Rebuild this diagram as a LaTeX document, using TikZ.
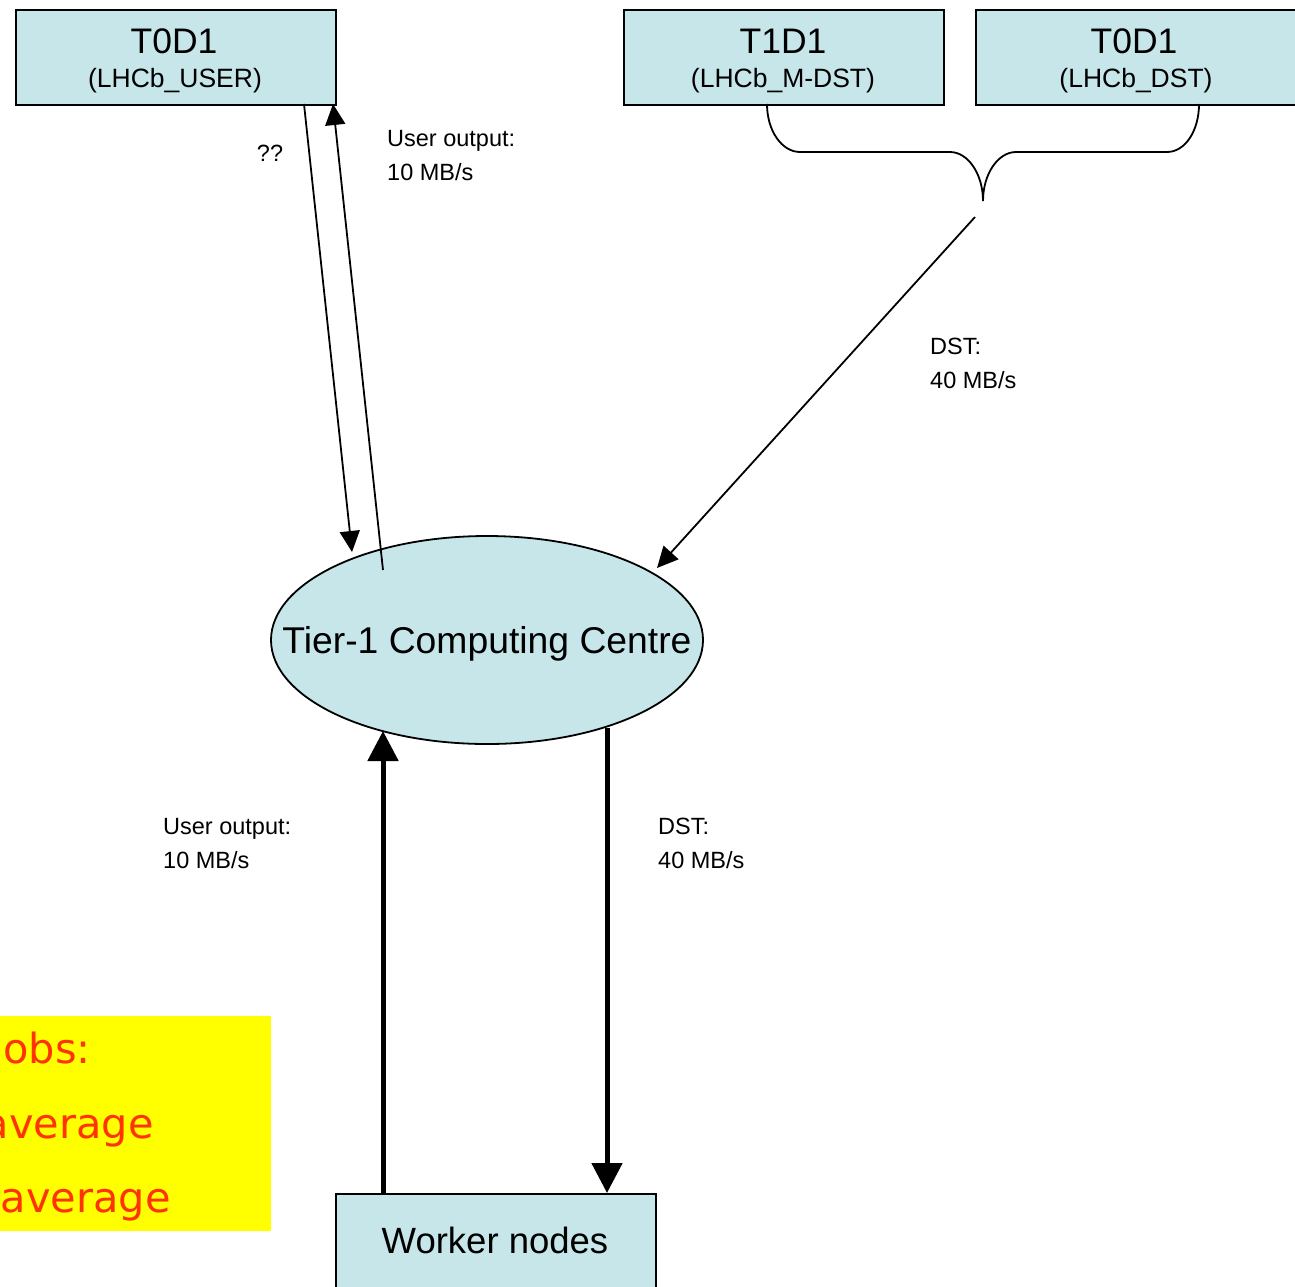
\documentclass[tikz,border=0pt]{standalone}
\usepackage{fontspec}
\setmainfont{Liberation Sans}
\newfontfamily\notefont{DejaVu Sans}
\usetikzlibrary{arrows.meta,shapes.geometric}
\definecolor{boxfill}{RGB}{198,230,234}
\definecolor{noteyellow}{RGB}{255,255,0}
\definecolor{notered}{RGB}{255,51,0}
\tikzset{
  store/.style={draw=black,line width=1.8pt,fill=boxfill,rectangle,minimum width=320pt,minimum height=95pt,inner sep=0pt,anchor=north west},
  title/.style={inner sep=0pt,anchor=base,font=\fontsize{35.5}{40}\selectfont},
  sub/.style={inner sep=0pt,anchor=base,font=\fontsize{26.5}{30}\selectfont},
  lbl/.style={inner sep=0pt,anchor=base west,font=\fontsize{23.5}{28}\selectfont},
  note/.style={inner sep=0pt,anchor=base east,text=notered,font=\notefont\fontsize{41.5}{48}\selectfont},
  thin/.style={line width=1.8pt,-{Triangle[width=20pt,length=21pt]}},
  thick/.style={line width=5pt,-{Triangle[width=30pt,length=30pt]}}
}
\begin{document}
\begin{tikzpicture}[x=1pt,y=-1pt]
\useasboundingbox (0,0) rectangle (1295,1286);
\clip (0,0) rectangle (1295,1286);
% boxes
\node[store] (user) at (15,9) {};
\node[store] (mdst) at (623,9) {};
\node[store] (dst) at (975,9) {};
\node[store,minimum height=130pt] (wn) at (335,1193) {};
\node[draw=black,line width=1.8pt,fill=boxfill,ellipse,minimum width=432pt,minimum height=208pt,inner sep=0pt] (t1) at (487,640) {};
% yellow note
\node[fill=noteyellow,rectangle,minimum width=290pt,minimum height=215pt,inner sep=0pt,anchor=north east] (yel) at (271,1016) {};
\node[note] (n1) at (91,1063) {obs:};
\node[note] (n2) at (154,1138) {average};
\node[note] (n3) at (171,1212) {average};
% titles
\node[title] (ut) at (174,53.5) {T0D1};
\node[sub] (us) at (175,87) {(LHCb\_USER)};
\node[title] (mt) at (783,53.5) {T1D1};
\node[sub] (ms) at (783,87) {(LHCb\_M-DST)};
\node[title] (dt) at (1134,53.5) {T0D1};
\node[sub] (ds) at (1136,87) {(LHCb\_DST)};
\node[inner sep=0pt,anchor=base,font=\fontsize{37.3}{42}\selectfont] (t1t) at (487,653) {Tier-1 Computing Centre};
\node[inner sep=0pt,anchor=base,font=\fontsize{36.5}{40}\selectfont] (wnt) at (495,1253) {Worker nodes};
% labels
\node[lbl,anchor=base] (qq) at (270,161.5) {??};
\node[lbl] (l1a) at (387,146.5) {User output:};
\node[lbl] (l1b) at (387,180.5) {10 MB/s};
\node[lbl] (l2a) at (930,354.5) {DST:};
\node[lbl] (l2b) at (930,388.5) {40 MB/s};
\node[lbl] (l3a) at (163,834.5) {User output:};
\node[lbl] (l3b) at (163,868.5) {10 MB/s};
\node[lbl] (l4a) at (658,834.5) {DST:};
\node[lbl] (l4b) at (658,868.5) {40 MB/s};
% brace
\coordinate (bl) at (767,104);
\coordinate (br) at (1199,104);
\coordinate (bt) at (983,201);
\draw[line width=1.8pt] (bl) .. controls (767,131) and (782,152) .. (800,152)
  -- (950,152) .. controls (968,152) and (983,174) .. (bt)
  .. controls (983,174) and (998,152) .. (1016,152)
  -- (1167,152) .. controls (1185,152) and (1199,131) .. (br);
% connectors
\coordinate (a1s) at (304,104);
\coordinate (a1e) at (352,552);
\coordinate (a2s) at (383,570);
\coordinate (a2e) at (333,104);
\coordinate (a3s) at (975,217);
\coordinate (a3e) at (657,568);
\coordinate (a4s) at (383,1193);
\coordinate (a4e) at (383,731);
\coordinate (a5s) at (607,728);
\coordinate (a5e) at (607,1193);
\draw[thin] (a1s) -- (a1e);
\draw[thin] (a2s) -- (a2e);
\draw[thin] (a3s) -- (a3e);
\draw[thick] (a4s) -- (a4e);
\draw[thick] (a5s) -- (a5e);
\end{tikzpicture}
\end{document}
